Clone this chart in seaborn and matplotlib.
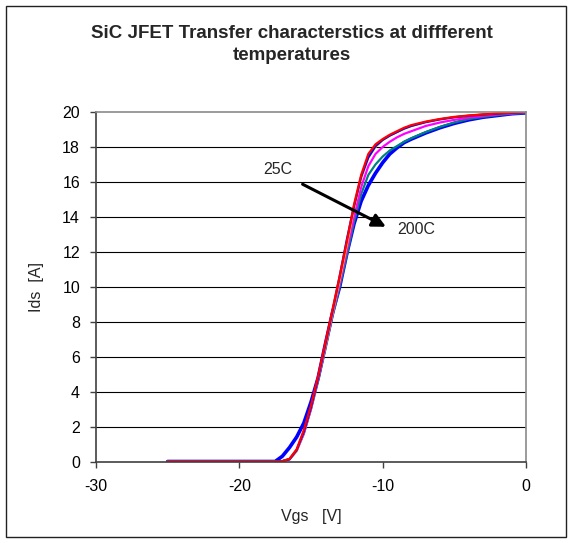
import matplotlib
matplotlib.use("Agg")
import matplotlib.pyplot as plt
import matplotlib.patches as patches
import seaborn as sns
import pandas as pd

# ---- data ----
vgs = [-25, -20, -17.5, -17, -16.5, -16, -15.5, -15, -14.5, -14, -13.5, -13, -12.5, -12,
       -11.5, -11, -10.5, -10, -9.5, -9, -8.5, -8, -7, -6, -5, -4, -3, -2, -1, 0]

ids_25c = [0, 0, 0, 0.02, 0.15, 0.7, 1.8, 3.2, 4.9, 6.8, 8.7, 10.6, 12.6, 14.7, 16.4, 17.6,
           18.15, 18.45, 18.7, 18.9, 19.1, 19.25, 19.45, 19.6, 19.72, 19.8, 19.86, 19.92, 19.96, 20.0]
ids_50c = [0, 0, 0, 0.02, 0.12, 0.65, 1.7, 3.1, 4.8, 6.7, 8.6, 10.6, 12.7, 14.6, 16.3, 17.4,
           18.05, 18.4, 18.65, 18.85, 19.05, 19.2, 19.42, 19.58, 19.7, 19.78, 19.85, 19.9, 19.95, 19.98]
ids_75c = [0, 0, 0, 0.02, 0.12, 0.6, 1.7, 3.1, 4.8, 6.6, 8.5, 10.4, 12.4, 14.5, 16.2, 17.4,
           18.0, 18.4, 18.65, 18.85, 19.05, 19.2, 19.42, 19.58, 19.7, 19.79, 19.86, 19.91, 19.95, 19.98]
ids_100c = [0, 0, 0, 0.02, 0.12, 0.6, 1.6, 3.0, 4.7, 6.5, 8.4, 10.2, 12.1, 14.0, 15.7, 16.9,
            17.6, 18.0, 18.3, 18.55, 18.75, 18.9, 19.2, 19.4, 19.55, 19.68, 19.78, 19.86, 19.92, 19.96]
ids_150c = [0, 0, 0, 0.02, 0.15, 0.65, 1.6, 3.0, 4.6, 6.4, 8.3, 10.0, 11.8, 13.7, 15.3, 16.4,
            17.0, 17.45, 17.8, 18.05, 18.3, 18.5, 18.85, 19.15, 19.4, 19.6, 19.72, 19.82, 19.9, 19.95]
ids_200c = [0, 0, 0, 0.3, 0.8, 1.4, 2.2, 3.4, 4.8, 6.7, 8.5, 10.0, 11.9, 13.6, 14.9, 15.8,
            16.5, 17.1, 17.6, 17.95, 18.25, 18.45, 18.8, 19.1, 19.35, 19.55, 19.7, 19.8, 19.9, 19.95]

x_ticks = [-30, -20, -10, 0]
y_ticks = [0, 2, 4, 6, 8, 10, 12, 14, 16, 18, 20]

title_1 = "SiC JFET Transfer characterstics at diffferent"
title_2 = "temperatures"
x_label = "Vgs   [V]"
y_label = "Ids  [A]"

# draw order, colour, width
series = [
    ("200C", ids_200c, "#0000FF", 2.6),
    ("150C", ids_150c, "#008080", 1.6),
    ("100C", ids_100c, "#FF00FF", 1.6),
    ("75C", ids_75c, "#FFC000", 1.6),
    ("50C", ids_50c, "#0000FF", 1.6),
    ("25C", ids_25c, "#FF0000", 1.6),
]

sns.set_style("white")
plt.rcParams["font.family"] = ["Liberation Sans", "DejaVu Sans"]

fig = plt.figure(figsize=(5.72, 5.43), dpi=100)
ax = fig.add_axes([96 / 572, 1 - 461.5 / 543, (526 - 96) / 572, (461.5 - 112) / 543])

for name, vals, col, lw in series:
    df = pd.DataFrame({"Vgs": vgs, "Ids": vals})
    sns.lineplot(data=df, x="Vgs", y="Ids", color=col, linewidth=lw, ax=ax,
                 legend=False, sort=False)

ax.set_xlim(-30, 0)
ax.set_ylim(0, 20)
ax.set_xticks(x_ticks)
ax.set_yticks(y_ticks)
ax.set_xticklabels([str(t) for t in x_ticks])
ax.set_yticklabels([str(t) for t in y_ticks])
for y in y_ticks[1:-1]:
    ax.axhline(y, color="#000000", lw=0.8, zorder=0)

for s in ["top", "right"]:
    ax.spines[s].set_color("#8a8a8a")
    ax.spines[s].set_linewidth(1.2)
for s in ["left", "bottom"]:
    ax.spines[s].set_color("#404040")
    ax.spines[s].set_linewidth(1.2)

ax.tick_params(axis="both", direction="out", length=4.5, width=1, color="#404040",
               labelsize=11.5, labelcolor="black", bottom=True, left=True)
ax.tick_params(axis="y", pad=7)
ax.tick_params(axis="x", pad=8)

ax.set_xlabel(x_label, fontsize=11.5, labelpad=11)
ax.set_ylabel(y_label, fontsize=11.5, labelpad=13)

fig.text(0.511, 1 - 33 / 543, title_1, ha="center", va="center", fontsize=13.5,
         fontweight="bold")
fig.text(0.511, 1 - 56 / 543, title_2, ha="center", va="center", fontsize=13.5,
         fontweight="bold")

ax.annotate("", xy=(-9.6, 13.36), xytext=(-15.76, 15.94),
            arrowprops=dict(arrowstyle="-|>,head_length=0.8,head_width=0.4",
                            color="black", lw=2.2))
ax.text(-17.3, 16.7, "25C", ha="center", va="center", fontsize=11.5)
ax.text(-9.0, 13.27, "200C", ha="left", va="center", fontsize=11.5)

fig.add_artist(patches.Rectangle((6 / 572, 1 - 537 / 543), 560 / 572, 531 / 543,
                                 transform=fig.transFigure, fill=False,
                                 edgecolor="#222222", lw=1.0))

fig.savefig("out.png", dpi=100)
